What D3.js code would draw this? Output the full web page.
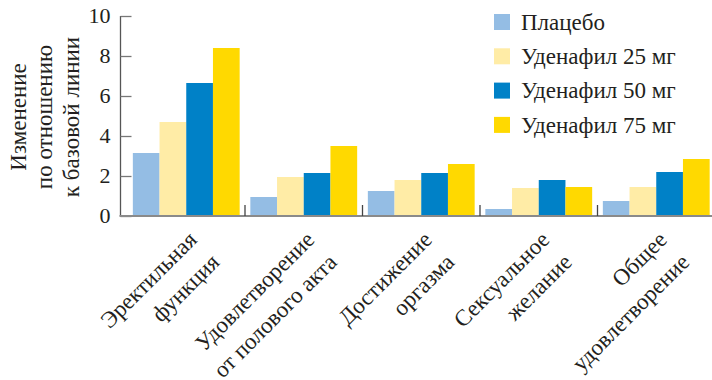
<!DOCTYPE html>
<html>
<head>
<meta charset="utf-8">
<script src="https://cdn.jsdelivr.net/npm/d3@7"></script>
</head>
<body style="margin:0">
<svg id="chart" width="712" height="380"></svg>
<script>
// Categories (two-line labels) and series
const categories = [
  ["Эректильная", "функция"],
  ["Удовлетворение", "от полового акта"],
  ["Достижение", "оргазма"],
  ["Сексуальное", "желание"],
  ["Общее", "удовлетворение"]
];
const seriesNames = ["Плацебо", "Уденафил 25 мг", "Уденафил 50 мг", "Уденафил 75 мг"];
const placebo = [3.15, 0.95, 1.25, 0.35, 0.75];
const udenafil25 = [4.7, 1.95, 1.8, 1.4, 1.45];
const udenafil50 = [6.65, 2.15, 2.15, 1.8, 2.2];
const udenafil75 = [8.4, 3.5, 2.6, 1.45, 2.85];
const yTicks = [0, 2, 4, 6, 8, 10];
const yTitle = ["Изменение", "по отношению", "к базовой линии"];

const seriesValues = [placebo, udenafil25, udenafil50, udenafil75];
const colors = ["#94bde4", "#ffeca6", "#0081c7", "#ffd900"];
const textColor = "#231f20";

// Serif text helper: font set as one inline declaration
function serif(sel, size) {
  return sel.attr("style", `font: ${size}px "Times New Roman", "Liberation Serif", serif`)
    .attr("fill", textColor);
}

const svg = d3.select("#chart");
const axisX = 120.5, y0 = 216;

const x = d3.scaleBand()
  .domain(d3.range(categories.length))
  .range([127.5, 715])
  .paddingInner(0).paddingOuter(0);

const y = d3.scaleLinear().domain([0, 10]).range([y0, 16]);

const xs = d3.scaleBand()
  .domain(d3.range(seriesNames.length))
  .range([0, x.bandwidth()])
  .paddingOuter(0.2).paddingInner(0);

// Bars
categories.forEach((c, ci) => {
  const g = svg.append("g").attr("transform", `translate(${x(ci)},0)`);
  g.selectAll("rect")
    .data(seriesValues.map((s, si) => ({ si, v: s[ci] })))
    .join("rect")
    .attr("x", d => xs(d.si))
    .attr("width", xs.bandwidth())
    .attr("y", d => y(d.v))
    .attr("height", d => y0 - y(d.v))
    .attr("fill", d => colors[d.si]);
});

// Y axis: ticks point inward
const yAxis = d3.axisRight(y).tickValues(yTicks).tickSize(11).tickFormat("");
const ya = svg.append("g").attr("transform", `translate(${axisX},0)`).call(yAxis);
ya.select(".domain").attr("stroke", "#555").attr("stroke-width", 1.3).attr("d", `M0,${y(10)}V${y0}`);
ya.selectAll(".tick line").attr("stroke", "#777").attr("stroke-width", 1.3);

svg.append("g").selectAll("text")
  .data(yTicks)
  .join("text")
  .attr("x", axisX - 10)
  .attr("y", d => y(d))
  .attr("dy", "0.34em")
  .attr("text-anchor", "end")
  .call(serif, 22)
  .text(d => d);

// X baseline and group separators pointing up
svg.append("line")
  .attr("x1", axisX - 1).attr("x2", 712)
  .attr("y1", y0).attr("y2", y0)
  .attr("stroke", "#8a8a8a").attr("stroke-width", 2);

svg.append("g").selectAll("line")
  .data(d3.range(1, categories.length))
  .join("line")
  .attr("x1", d => x(d)).attr("x2", d => x(d))
  .attr("y1", y0).attr("y2", y0 - 11)
  .attr("stroke", "#444").attr("stroke-width", 1.3);

// Category labels, rotated -45°
const lab = svg.append("g").selectAll("text")
  .data(categories)
  .join("text")
  .attr("transform", (d, i) => `translate(${x(i) + x.bandwidth() / 2 + 12},${y0 + 25}) rotate(-45)`)
  .attr("text-anchor", "end")
  .call(serif, 23);
lab.selectAll("tspan")
  .data(d => d)
  .join("tspan")
  .attr("x", 0)
  .attr("dy", (d, i) => i === 0 ? 0 : "1.38em")
  .text(d => d);

// Y title
const yt = svg.append("text")
  .attr("transform", "translate(26,117) rotate(-90)")
  .attr("text-anchor", "middle")
  .call(serif, 23);
yt.selectAll("tspan")
  .data(yTitle)
  .join("tspan")
  .attr("x", 0)
  .attr("dy", (d, i) => i === 0 ? 0 : "1.15em")
  .text(d => d);

// Legend
const leg = svg.append("g").selectAll("g")
  .data(seriesNames)
  .join("g")
  .attr("transform", (d, i) => `translate(494,${22 + i * 34.3})`);
leg.append("rect")
  .attr("x", 0).attr("y", -8).attr("width", 16).attr("height", 16)
  .attr("fill", (d, i) => colors[i]);
leg.append("text")
  .attr("x", 27).attr("y", 0).attr("dy", "0.34em")
  .call(serif, 23)
  .text(d => d);
</script>
</body>
</html>
